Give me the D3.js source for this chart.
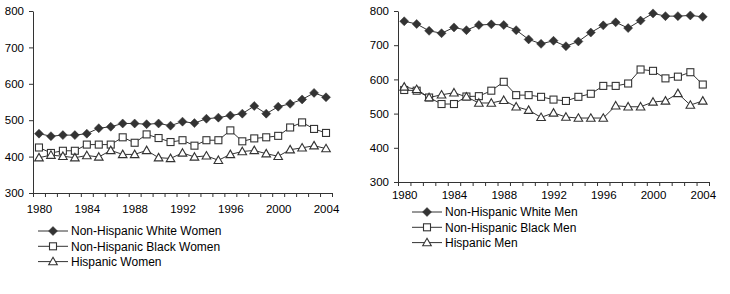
<!DOCTYPE html>
<html>
<head>
<meta charset="utf-8">
<script src="https://cdn.jsdelivr.net/npm/d3@7"></script>
<style>
  body { margin: 0; background: #fff; }
  svg text { font-family: "Liberation Sans", Arial, sans-serif; fill: #000; }
</style>
</head>
<body>
<div id="chart"></div>
<script>
// Years on the category axis
const years = d3.range(1980, 2005);
const yearLabels = [1980, 1984, 1988, 1992, 1996, 2000, 2004];
const yTicks = [300, 400, 500, 600, 700, 800];

// Women
const whiteWomen = [463, 456, 459, 459, 463, 478, 482, 491, 491, 489, 491, 485, 496, 492, 504, 507, 513, 518, 539, 518, 537, 545, 557, 575, 563];
const blackWomen = [425, 410, 416, 416, 433, 433, 433, 453, 438, 461, 451, 440, 445, 430, 445, 445, 472, 442, 450, 453, 457, 480, 494, 476, 465];
const hispanicWomen = [397, 404, 401, 397, 403, 399, 417, 406, 406, 417, 397, 395, 410, 399, 402, 390, 406, 414, 417, 408, 401, 419, 424, 430, 422];

// Men
const whiteMen = [770, 762, 742, 735, 752, 744, 759, 761, 759, 744, 717, 704, 713, 697, 711, 737, 758, 767, 750, 772, 793, 785, 785, 787, 783];
const blackMen = [569, 567, 547, 528, 528, 550, 551, 567, 593, 554, 554, 549, 541, 537, 549, 558, 581, 581, 588, 629, 625, 603, 608, 621, 585];
const hispanicMen = [578, 571, 547, 555, 561, 549, 531, 531, 539, 520, 510, 489, 502, 490, 487, 487, 487, 523, 520, 520, 534, 537, 559, 525, 537];

const womenSeries = [
  { name: "Non-Hispanic White Women", values: whiteWomen, marker: "diamond" },
  { name: "Non-Hispanic Black Women", values: blackWomen, marker: "square" },
  { name: "Hispanic Women", values: hispanicWomen, marker: "triangle" }
];
const menSeries = [
  { name: "Non-Hispanic White Men", values: whiteMen, marker: "diamond" },
  { name: "Non-Hispanic Black Men", values: blackMen, marker: "square" },
  { name: "Hispanic Men", values: hispanicMen, marker: "triangle" }
];

const ink = "#333";

const svg = d3.select("#chart").append("svg")
  .attr("width", 730)
  .attr("height", 294);

function drawMarker(g, type, cx, cy) {
  if (type === "diamond") {
    g.append("path")
      .attr("d", `M${cx},${cy - 4.5}L${cx + 4.5},${cy}L${cx},${cy + 4.5}L${cx - 4.5},${cy}Z`)
      .attr("fill", ink).attr("stroke", ink).attr("stroke-width", 0.5);
  } else if (type === "square") {
    g.append("rect")
      .attr("x", cx - 3.5).attr("y", cy - 3.5)
      .attr("width", 7).attr("height", 7)
      .attr("fill", "#fff").attr("stroke", ink).attr("stroke-width", 1.1);
  } else {
    g.append("path")
      .attr("d", `M${cx},${cy - 4.3}L${cx + 4.3},${cy + 3.2}L${cx - 4.3},${cy + 3.2}Z`)
      .attr("fill", "#fff").attr("stroke", ink).attr("stroke-width", 1.1);
  }
}

function panel(opts) {
  const { x0, x1, yTop, yBottom, series, labelGap, legendX, legendY, legendStep } = opts;

  const x = d3.scaleLinear().domain([1979.5, 2004.5]).range([x0, x1]);
  const y = d3.scaleLinear().domain([300, 800]).range([yBottom, yTop]);

  const g = svg.append("g");

  // y axis
  const yAxis = g.append("g")
    .attr("transform", `translate(${x0},0)`)
    .call(d3.axisLeft(y).tickValues(yTicks).tickSize(4).tickSizeOuter(0).tickPadding(5));
  yAxis.select(".domain").attr("stroke", ink);
  yAxis.selectAll(".tick line").attr("stroke", ink);
  yAxis.selectAll("text").style("font-size", "11.5px").attr("fill", "#000");

  // x axis: ticks between categories
  const boundaries = d3.range(1979.5, 2005, 1);
  const xAxis = g.append("g")
    .attr("transform", `translate(0,${yBottom})`)
    .call(d3.axisBottom(x).tickValues(boundaries).tickSize(4).tickSizeOuter(0).tickFormat(""));
  xAxis.select(".domain").attr("stroke", ink);
  xAxis.selectAll(".tick line").attr("stroke", ink);

  const xLabels = g.append("g")
    .attr("transform", `translate(0,${yBottom})`)
    .call(d3.axisBottom(x).tickValues(yearLabels).tickSize(0).tickPadding(labelGap).tickFormat(d3.format("d")));
  xLabels.select(".domain").remove();
  xLabels.selectAll("text").style("font-size", "11.5px").attr("fill", "#000");

  const line = d3.line()
    .x((d, i) => x(years[i]))
    .y(d => y(d));

  series.forEach(s => {
    g.append("path")
      .datum(s.values)
      .attr("fill", "none")
      .attr("stroke", ink)
      .attr("stroke-width", 1)
      .attr("d", line);
  });
  series.forEach(s => {
    s.values.forEach((v, i) => drawMarker(g, s.marker, x(years[i]), y(v)));
  });

  // legend
  series.forEach((s, i) => {
    const ly = legendY + i * legendStep;
    g.append("line")
      .attr("x1", legendX).attr("x2", legendX + 30)
      .attr("y1", ly).attr("y2", ly)
      .attr("stroke", ink).attr("stroke-width", 1);
    drawMarker(g, s.marker, legendX + 15, ly);
    g.append("text")
      .attr("x", legendX + 33)
      .attr("y", ly)
      .attr("dy", "0.35em")
      .style("font-size", "12px")
      .text(s.name);
  });
}

panel({ x0: 33, x1: 332, yTop: 11, yBottom: 193, series: womenSeries,
        labelGap: 12, legendX: 38, legendY: 231, legendStep: 15.3 });
panel({ x0: 398, x1: 709, yTop: 11, yBottom: 182, series: menSeries,
        labelGap: 9, legendX: 412, legendY: 212, legendStep: 15.3 });
</script>
</body>
</html>
